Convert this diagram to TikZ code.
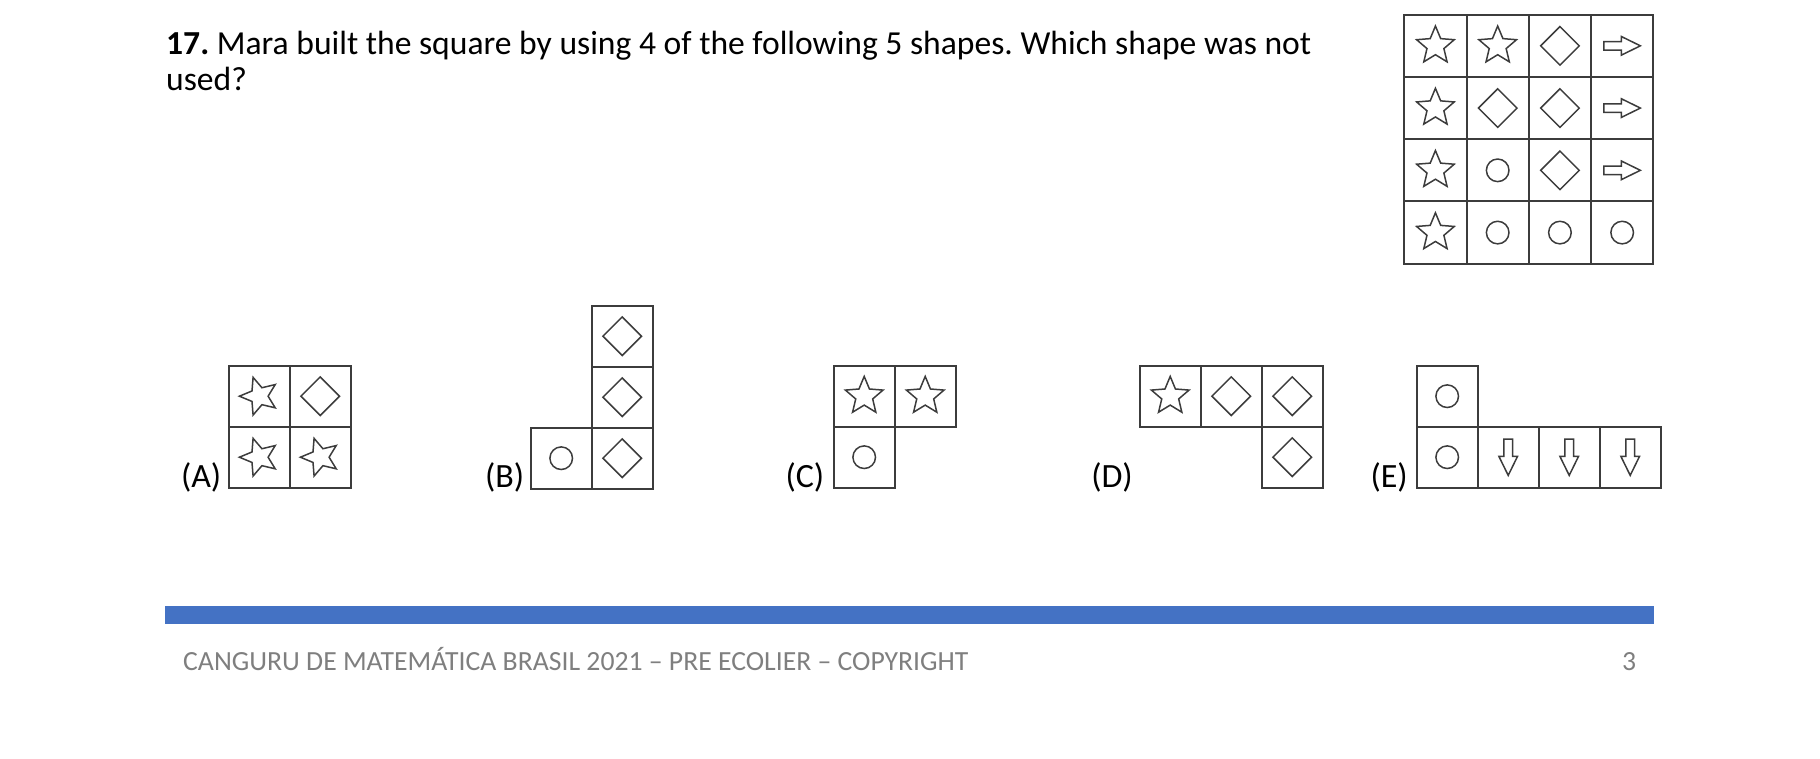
\documentclass[tikz,border=0pt]{standalone}
\usepackage{fontspec}
\setmainfont{Carlito}
\frenchspacing
\definecolor{barblue}{HTML}{4472C4}
\definecolor{linegray}{HTML}{3C3C3C}
\definecolor{footgray}{HTML}{7F7F7F}
\tikzset{
  gridl/.style={draw=linegray, line width=1.9pt},
  shp/.style={draw=linegray, line width=1.5pt, line join=miter},
  lbl/.style={anchor=base east, inner sep=0pt, font=\fontsize{34}{36}\selectfont},
}
\def\ox{0}\def\oy{0}\def\cs{61}
\newcommand\Cell[2]{\draw[gridl] ({\ox+#1*\cs},{\oy+#2*\cs}) rectangle ++(\cs,\cs);}
\newcommand\Star[3]{\draw[shp,shift={({\ox+(#1+0.5)*\cs},{\oy+(#2+0.5)*\cs})},rotate=#3]
  (90:19.8pt)--(126:8.9pt)--(162:19.8pt)--(198:8.9pt)--(234:19.8pt)--(270:8.9pt)--(306:19.8pt)--(342:8.9pt)--(18:19.8pt)--(54:8.9pt)--cycle;}
\newcommand\Diam[2]{\draw[shp,shift={({\ox+(#1+0.5)*\cs},{\oy+(#2+0.5)*\cs})}]
  (0pt,19.3pt)--(19.3pt,0pt)--(0pt,-19.3pt)--(-19.3pt,0pt)--cycle;}
\newcommand\Circ[2]{\draw[shp] ({\ox+(#1+0.5)*\cs},{\oy+(#2+0.5)*\cs}) circle[radius=11.3pt];}
\newcommand\Arr[3]{\draw[shp,shift={({\ox+(#1+0.5)*\cs},{\oy+(#2+0.5)*\cs})},rotate=#3]
  (-18.2pt,4.3pt)--(-0.8pt,4.3pt)--(-0.8pt,9.3pt)--(18.2pt,0pt)--(-0.8pt,-9.3pt)--(-0.8pt,-4.3pt)--(-18.2pt,-4.3pt)--cycle;}
\begin{document}
\begin{tikzpicture}[x=1pt,y=-1pt]
\useasboundingbox (0,0) rectangle (1820,759);
% title
\node[anchor=base west, inner sep=0pt, font=\fontsize{33.6}{36}\selectfont] (title1) at (166,55)
  {\textbf{17.} Mara built the square by using 4 of the following 5 shapes. Which shape was not};
\node[anchor=base west, inner sep=0pt, font=\fontsize{33.6}{36}\selectfont] (title2) at (166,91) {used?};
% big square
\def\ox{1404.3}\def\oy{14.7}\def\cs{62.25}
\foreach \c in {0,1,2,3}{\foreach \r in {0,1,2,3}{\Cell{\c}{\r}}}
\Star{0}{0}{0}\Star{1}{0}{0}\Diam{2}{0}\Arr{3}{0}{0}
\Star{0}{1}{0}\Diam{1}{1}\Diam{2}{1}\Arr{3}{1}{0}
\Star{0}{2}{0}\Circ{1}{2}\Diam{2}{2}\Arr{3}{2}{0}
\Star{0}{3}{0}\Circ{1}{3}\Circ{2}{3}\Circ{3}{3}
% (A)
\def\ox{228.7}\def\oy{365.7}\def\cs{61}
\Cell{0}{0}\Cell{1}{0}\Cell{0}{1}\Cell{1}{1}
\Star{0}{0}{18}\Diam{1}{0}\Star{0}{1}{18}\Star{1}{1}{18}
\node[lbl] (la) at (221.5,487) {(A)};
% (B)
\def\ox{530.7}\def\oy{305.7}
\Cell{1}{0}\Cell{1}{1}\Cell{1}{2}\Cell{0}{2}
\Diam{1}{0}\Diam{1}{1}\Diam{1}{2}\Circ{0}{2}
\node[lbl] (lb) at (524.5,487) {(B)};
% (C)
\def\ox{833.7}\def\oy{365.7}
\Cell{0}{0}\Cell{1}{0}\Cell{0}{1}
\Star{0}{0}{0}\Star{1}{0}{0}\Circ{0}{1}
\node[lbl] (lc) at (824.5,487) {(C)};
% (D)
\def\ox{1139.7}\def\oy{365.7}
\Cell{0}{0}\Cell{1}{0}\Cell{2}{0}\Cell{2}{1}
\Star{0}{0}{0}\Diam{1}{0}\Diam{2}{0}\Diam{2}{1}
\node[lbl] (ld) at (1133,487) {(D)};
% (E)
\def\ox{1416.7}\def\oy{365.7}
\Cell{0}{0}\Cell{0}{1}\Cell{1}{1}\Cell{2}{1}\Cell{3}{1}
\Circ{0}{0}\Circ{0}{1}\Arr{1}{1}{-90}\Arr{2}{1}{-90}\Arr{3}{1}{-90}
\node[lbl] (le) at (1408,487) {(E)};
% footer
\fill[barblue] (165,606) rectangle (1654,624);
\node[anchor=base west, inner sep=0pt, text=footgray, font=\fontsize{27.7}{30}\selectfont] (foot) at (183,670)
  {CANGURU DE MATEMÁTICA BRASIL 2021 – PRE ECOLIER – COPYRIGHT};
\node[anchor=base west, inner sep=0pt, text=footgray, font=\fontsize{27.7}{30}\selectfont] (page) at (1622,670) {3};
\end{tikzpicture}
\end{document}
